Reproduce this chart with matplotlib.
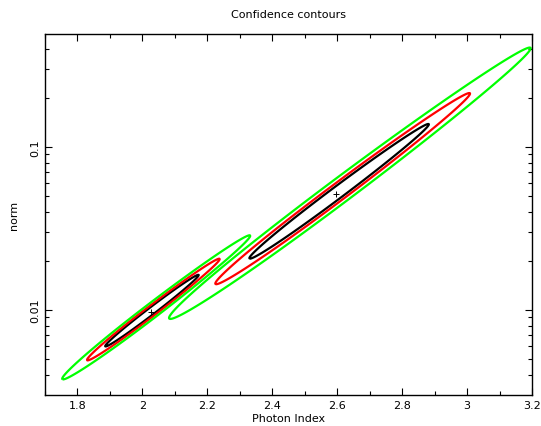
import numpy as np
import matplotlib
matplotlib.use("Agg")
from matplotlib import pyplot as plt
from matplotlib import ticker

# best fits (photon index, norm) and the shape of the chi2 surface around them
fit_index = [2.025, 2.595]
fit_norm = [0.00976, 0.0515]
sig_index = [0.095, 0.182]     # spread of photon index
sig_lognorm = [0.145, 0.272]   # spread of log10(norm)
corr = [0.992, 0.9937]
skew = [0.02, 0.026]           # surface is a bit flatter towards high index

# delta chi2 levels (68%, 90%, 99% for 2 params) and their colours
levels = [2.30, 4.61, 9.21]
level_colors = ['black', 'red', '#00ff00']

fig = plt.figure(figsize=(5.41, 4.27), dpi=100)
ax = fig.add_axes([0.0832, 0.0726, 0.9002, 0.8454])

gx = np.linspace(1.6, 3.4, 900)
gl = np.linspace(-3.0, 0.0, 900)
GX, GL = np.meshgrid(gx, gl)

for i in range(len(fit_index)):
    a = (GX - fit_index[i]) / sig_index[i]
    b = (GL - np.log10(fit_norm[i])) / sig_lognorm[i]
    r = corr[i]
    u = (a + b) / np.sqrt(2 * (1 + r))
    w = (a - b) / np.sqrt(2 * (1 - r))
    c = skew[i]
    fu = (1 - np.exp(-2 * c * u)) / (2 * c)
    chi2 = fu**2 + w**2
    ax.contour(GX, 10**GL, chi2, levels=levels, colors=level_colors, linewidths=1.6)
    ax.plot(fit_index[i], fit_norm[i], marker='+', color='black', ms=5, mew=0.7)

ax.set_yscale('log')
ax.set_xlim(1.7, 3.2)
ax.set_ylim(0.00301, 0.493)

ax.xaxis.set_major_locator(ticker.MultipleLocator(0.2))
ax.xaxis.set_minor_locator(ticker.MultipleLocator(0.1))
ax.xaxis.set_major_formatter(ticker.FuncFormatter(lambda v, p: '%g' % round(v, 2)))
ax.set_yticks([0.01, 0.1])
ax.set_yticklabels(['0.01', '0.1'], rotation=90, va='center')
ax.yaxis.set_minor_formatter(ticker.NullFormatter())

ax.tick_params(which='both', direction='in', top=True, right=True, labelsize=8, width=0.8)
ax.tick_params(which='major', length=5)
ax.tick_params(which='minor', length=3)
for s in ax.spines.values():
    s.set_linewidth(1.0)

ax.set_title('Confidence contours', fontsize=8, pad=12)
ax.set_xlabel('Photon Index', fontsize=8, labelpad=2)
ax.set_ylabel('norm', fontsize=8, labelpad=8)

plt.savefig('out.png', dpi=100)
